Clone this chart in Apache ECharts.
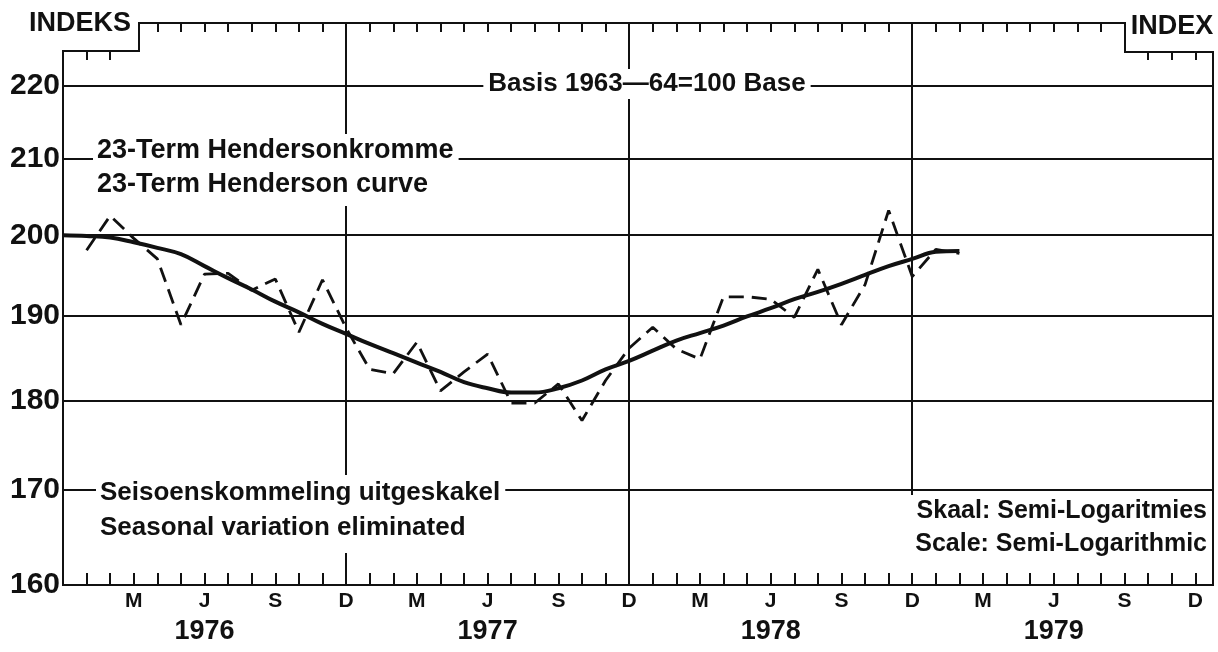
<!DOCTYPE html>
<html>
<head>
<meta charset="utf-8">
<script src="https://cdn.jsdelivr.net/npm/echarts@6/dist/echarts.min.js"></script>
<style>
  html, body { margin: 0; padding: 0; background: #fff; }
  #chart { width: 1218px; height: 652px; }
</style>
</head>
<body>
<div id="chart"></div>
<script>
// months counted from Dec 1975 (0) to Dec 1979 (48)
var monthLetters = ['D', 'M', 'J', 'S'];   // Dec, Mar, Jun, Sep
var years = ['1976', '1977', '1978', '1979'];
var yTicks = [160, 170, 180, 190, 200, 210, 220];

// seasonally adjusted index, Jan 1976 .. Feb 1979
var adjustedStart = 1;
var adjusted = [198.1, 202.5, 199.6, 197.0, 188.9, 195.1, 195.2, 193.1, 194.5, 188.0, 194.4, 188.5,
  183.6, 183.1, 186.8, 181.1, 183.3, 185.4, 179.7, 179.7, 181.9, 177.7, 182.3, 186.1,
  188.6, 186.0, 184.8, 192.3, 192.3, 192.0, 189.8, 195.7, 188.9, 193.8, 203.2, 194.8,
  198.2, 197.7];

// 23-term Henderson curve, Dec 1975 .. Feb 1979
var hendersonStart = 0;
var henderson = [200.0, 199.9, 199.7, 199.1, 198.4, 197.6, 196.1, 194.6, 193.2, 191.7, 190.4, 189.0,
  187.8, 186.6, 185.5, 184.4, 183.3, 182.1, 181.4, 180.9, 180.9, 181.4, 182.3, 183.6,
  184.6, 185.8, 187.0, 187.9, 188.8, 189.9, 190.9, 192.0, 192.9, 193.9, 195.0, 196.1,
  197.0, 197.9, 198.0];

var FONT = '"Liberation Sans", Arial, "DejaVu Sans", sans-serif';
var INK = '#111';
var gridLeft = 63, gridTop = 23, gridRight = 1213, gridBottom = 585;

function pairs(start, arr) {
  return arr.map(function (v, i) { return [start + i, v]; });
}
function range(a, b) {
  var out = [];
  for (var i = a; i <= b; i++) out.push(i);
  return out;
}

var chart = echarts.init(document.getElementById('chart'), null, { renderer: 'canvas' });

var option = {
  backgroundColor: '#ffffff',
  animation: false,
  textStyle: { fontFamily: FONT, color: INK },
  grid: {
    left: gridLeft, top: gridTop, right: 1218 - gridRight, bottom: 652 - gridBottom,
    show: true, borderColor: INK, borderWidth: 2, backgroundColor: 'transparent'
  },
  xAxis: [
    {
      type: 'value', position: 'bottom', min: 0, max: 48.75,
      axisLine: { show: true, lineStyle: { color: INK, width: 2 } },
      axisTick: { show: true, inside: true, length: 12, customValues: range(0, 48), lineStyle: { color: INK, width: 2 } },
      axisLabel: {
        customValues: range(1, 16).map(function (q) { return q * 3; }),
        margin: 4,
        formatter: function (v) {
          var m = Math.round(v);
          var s = '{m|' + monthLetters[(m % 12) / 3] + '}';
          if (m % 12 === 6) s += '\n{y|' + years[(m - 6) / 12] + '}';
          return s;
        },
        rich: {
          m: { fontFamily: FONT, fontWeight: 'bold', fontSize: 21, color: INK, lineHeight: 24 },
          y: { fontFamily: FONT, fontWeight: 'bold', fontSize: 27, color: INK, lineHeight: 38 }
        }
      },
      splitLine: { show: false }
    },
    {
      // December grid lines
      type: 'value', position: 'bottom', min: 0, max: 48.75, interval: 12,
      axisLine: { show: false },
      axisTick: { show: false, customValues: [12, 24, 36] },
      axisLabel: { show: false },
      splitLine: { show: true, lineStyle: { color: INK, width: 2 } }
    },
    {
      type: 'value', position: 'top', min: 0, max: 48.75,
      axisLine: { show: false },
      axisTick: { show: true, inside: true, length: 9, customValues: range(4, 44), lineStyle: { color: INK, width: 2 } },
      axisLabel: { show: false },
      splitLine: { show: false }
    },
    {
      type: 'value', position: 'top', offset: -28, min: 0, max: 48.75,
      axisLine: { show: false },
      axisTick: { show: true, inside: true, length: 9, customValues: [1, 2, 46, 47, 48], lineStyle: { color: INK, width: 2 } },
      axisLabel: { show: false },
      splitLine: { show: false }
    }
  ],
  yAxis: {
    type: 'log', min: 160, max: 229,
    axisLine: { show: true, lineStyle: { color: INK, width: 2 } },
    axisTick: { show: false, customValues: yTicks },
    axisLabel: {
      customValues: yTicks,
      margin: 3,
      fontFamily: FONT, fontWeight: 'bold', fontSize: 30, color: INK
    },
    splitLine: { show: true, lineStyle: { color: INK, width: 2 } }
  },
  graphic: [
    // stepped top corners of the frame
    { type: 'rect', z: 20, shape: { x: gridLeft - 3, y: gridTop - 4, width: 139 - gridLeft + 3, height: 50 - gridTop + 4 }, style: { fill: '#fff' } },
    { type: 'polyline', z: 21, shape: { points: [[gridLeft - 1, 51], [139, 51], [139, gridTop - 1]] }, style: { stroke: INK, lineWidth: 2, fill: null } },
    { type: 'rect', z: 20, shape: { x: 1126, y: gridTop - 4, width: gridRight - 1126 + 4, height: 51 - gridTop + 4 }, style: { fill: '#fff' } },
    { type: 'polyline', z: 21, shape: { points: [[1125, gridTop - 1], [1125, 52], [gridRight + 1, 52]] }, style: { stroke: INK, lineWidth: 2, fill: null } },
    { type: 'text', z: 22, style: { text: 'INDEKS', x: 80, y: 24, align: 'center', verticalAlign: 'middle', font: 'bold 27px ' + FONT, fill: INK } },
    { type: 'text', z: 22, style: { text: 'INDEX', x: 1172, y: 27, align: 'center', verticalAlign: 'middle', font: 'bold 27px ' + FONT, fill: INK } },
    // annotations
    { type: 'text', z: 10, style: { text: 'Basis 1963—64=100 Base', x: 647, y: 84, align: 'center', verticalAlign: 'middle', font: 'bold 26px ' + FONT, fill: INK, backgroundColor: '#fff', padding: [2, 5] } },
    { type: 'text', z: 10, style: { text: '23-Term Hendersonkromme\n23-Term Henderson curve', x: 93, y: 134, align: 'left', verticalAlign: 'top', font: 'bold 27px ' + FONT, lineHeight: 34, fill: INK, backgroundColor: '#fff', padding: [0, 5, 4, 4] } },
    { type: 'text', z: 10, style: { text: 'Seisoenskommeling uitgeskakel\nSeasonal variation eliminated', x: 96, y: 475, align: 'left', verticalAlign: 'top', font: 'bold 26px ' + FONT, lineHeight: 35, fill: INK, backgroundColor: '#fff', padding: [0, 5, 8, 4] } },
    { type: 'text', z: 10, style: { text: 'Skaal: Semi-Logaritmies\nScale: Semi-Logarithmic', x: 1211, y: 495, align: 'right', verticalAlign: 'top', font: 'bold 25px ' + FONT, lineHeight: 33, fill: INK, backgroundColor: '#fff', padding: [0, 4, 12, 8] } }
  ],
  series: [
    {
      name: 'Seisoenskommeling uitgeskakel',
      type: 'line',
      xAxisIndex: 0,
      symbol: 'none',
      z: 5,
      lineStyle: { color: INK, width: 2.8, type: [15, 8] },
      data: pairs(adjustedStart, adjusted)
    },
    {
      name: '23-Term Hendersonkromme',
      type: 'line',
      xAxisIndex: 0,
      symbol: 'none',
      smooth: 0.4,
      z: 6,
      lineStyle: { color: INK, width: 4 },
      data: pairs(hendersonStart, henderson)
    }
  ]
};

chart.setOption(option);
</script>
</body>
</html>
